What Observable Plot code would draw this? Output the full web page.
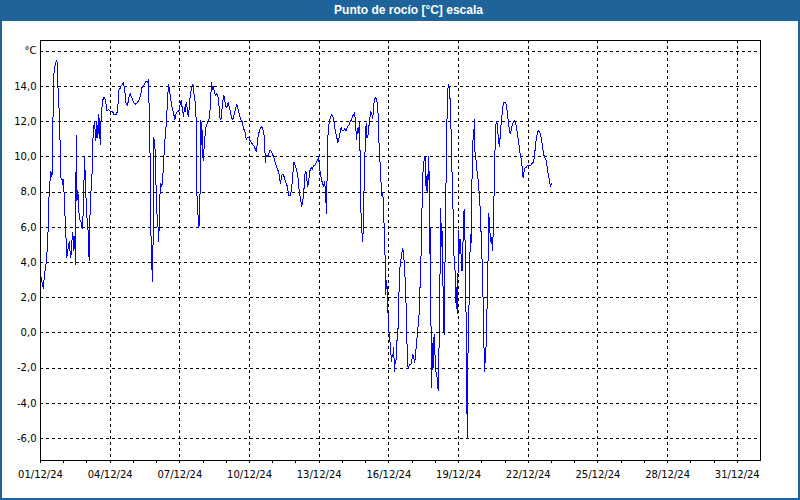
<!DOCTYPE html>
<html>
<head>
<meta charset="utf-8">
<script src="https://cdn.jsdelivr.net/npm/d3@7"></script>
<script src="https://cdn.jsdelivr.net/npm/@observablehq/plot@0.6"></script>
<style>
  html, body { margin: 0; padding: 0; background: #ffffff; }
  #wrap { width: 800px; height: 500px; box-sizing: border-box; border: 2px solid #1e6399; border-top: none; background: #ffffff; overflow: hidden; }
  #title { height: 21px; line-height: 21px; background: #1e6399; color: #ffffff; font-family: "Liberation Sans", Arial, sans-serif; font-weight: bold; font-size: 12px; text-align: center; padding-left: 17px; margin: 0 -2px; }
  #chart svg { display: block; }
</style>
</head>
<body>
<div id="wrap">
  <div id="title">Punto de rocío [°C] escala</div>
  <div id="chart"></div>
</div>
<script>
// Hours since 01/12/2024 00:00
const hours = [
  0, 3, 4, 6, 7.5, 9, 10.7, 11.7, 12.4, 12.8, 13.5, 14.5, 15.9, 17, 18, 19.3, 20.4, 21, 22.4, 23.1, 23.8,
  24.8, 26.2, 27.2, 28.3, 29.7, 30.3, 31.4, 32.4, 33.5, 34.1, 35.2, 36.2, 36.9, 37.6, 38.6, 40, 41, 42, 43,
  43.8, 44.8, 45.5, 46.5, 47.6, 49, 49.6, 50.3, 51.3, 52.4, 53.4, 54.1, 54.8, 55.8, 57.2, 58.2, 59.3, 60.3,
  61, 61.7, 62.4, 63, 64.1, 65.8, 67.2, 68.6, 70, 72, 74.1, 76.1, 78.2, 79.6, 81, 82.3, 83.7, 85.1, 85.8,
  87.2, 88.5, 89.9, 91.3, 92.7, 94.1, 96.1, 98.2, 100.3, 102.3, 103.7, 105.1, 106.5, 107.8, 109.2, 110.6,
  111.6, 112.6, 113.3, 114.4, 115.1, 115.8, 116.5, 117.1, 118.2, 118.9, 119.6, 120.3, 121.3, 122, 122.7,
  123.7, 124.4, 125.4, 126.4, 127.5, 128.5, 129.5, 130.6, 131.3, 132.3, 133.3, 134.7, 136.1, 137.5, 138.8,
  140.2, 141.6, 143, 144.4, 145.4, 146.4, 147.8, 148.8, 149.9, 150.5, 151.6, 152.6, 153.6, 154.7, 156.4,
  157.5, 158.8, 159.8, 160.9, 161.6, 162.6, 163.7, 164.3, 165, 165.8, 166.5, 167.2, 168, 169, 170.2, 171.2,
  172.3, 173.6, 174.7, 175.7, 176.7, 178.1, 178.8, 179.8, 181.2, 182.2, 183.3, 184.6, 185.7, 186.7, 187.7,
  189.1, 190.1, 191.2, 192.5, 193.9, 195.3, 196.7, 197.7, 198.8, 200.1, 201.5, 202.9, 204.3, 205.6, 207,
  208.4, 209.8, 211.1, 212.5, 213.9, 215.3, 216.7, 218, 219.4, 220.8, 222.2, 223.2, 224.2, 225.3, 227,
  228.4, 229.7, 231.1, 231.8, 232.5, 233.2, 234.6, 235.9, 237.3, 238.7, 240.1, 241.5, 242.8, 244.2, 245.6,
  247, 247.7, 248.7, 249.7, 251.1, 252.5, 253.9, 255.2, 256.3, 258, 259.4, 260.4, 261.8, 263.2, 264.5,
  265.9, 266.9, 268, 269, 270, 271.1, 272.1, 273.1, 274.2, 275.2, 276.2, 277.3, 278.3, 279.7, 280.7, 282.1,
  283.5, 284.9, 286.2, 287.3, 288.3, 289.3, 290.4, 291.4, 292.4, 293.5, 294.5, 295.5, 296.2, 296.9, 297.9,
  299.3, 300.7, 302.1, 303.5, 304.5, 305.9, 307.2, 308.3, 309.6, 310.7, 311.7, 313.1, 314.5, 315.8, 317.2,
  318.6, 320, 321.4, 322.4, 323.4, 324.5, 325.5, 326.5, 327.6, 328.6, 329.6, 330.3, 331, 331.7, 332.4,
  333.1, 333.8, 334.5, 335.1, 335.8, 336.5, 337.2, 338.2, 339.3, 340.3, 341.3, 342.4, 343.4, 344.4, 345.5,
  346.5, 347.5, 348.6, 349.5, 350.6, 351.6, 352.7, 353.7, 354.7, 355.4, 356.4, 356.8, 357.5, 358.2, 358.9,
  359.5, 360.6, 361.6, 362.6, 363.3, 364.4, 365, 365.7, 366.4, 367.5, 368.5, 369.5, 370.6, 371.6, 372.3,
  373.3, 374.4, 375, 376.1, 377.1, 378.1, 379.2, 380.2, 381.2, 382.6, 383.6, 384.7, 385.7, 386.7, 387.8,
  388.8, 389.8, 391.2, 392.3, 393.3, 394.3, 395.4, 396.4, 397.4, 398.5, 399.5, 400.2, 400.9, 401.6, 402.2,
  402.9, 403.6, 404.3, 405, 405.7, 406.7, 407.8, 408.8, 409.8, 410.9, 411.5, 412.2, 412.9, 413.6, 414.3,
  415, 415.7, 416.4, 417, 417.7, 418.4, 419.1, 419.8, 420.5, 421.2, 421.9, 422.6, 423.3, 423.9, 424.6,
  425.3, 426, 426.7, 427.4, 428.1, 428.8, 429.5, 430.1, 430.8, 431.5, 432.2, 432.9, 433.6, 434.3, 435,
  435.6, 436.3, 437, 437.7, 438.4, 439.1, 439.8, 440.5, 441.2, 441.5, 442.2, 442.9, 443.6, 444.3, 445,
  445.6, 446.3, 447, 447.7, 448.4, 449.1, 450.1, 451.1, 452.2, 453.2, 454.3, 455.3, 456.3, 457, 457.7,
  458.4, 459, 459.7, 460.4, 461.1, 461.8, 462.5, 463.2, 463.9, 464.6, 465.3, 466, 466.7, 467.3, 468,
  468.7, 469.4, 470.1, 470.8, 471.8, 472.9, 473.5, 474.2, 474.9, 475.6, 476.6, 477.7, 478.4, 479.8, 481.1,
  482.2, 483.2, 484.2, 485.3, 486.3, 487.3, 488.7, 490.1, 491.5, 492.8, 494.2, 495.6, 496.6, 497.7, 498.7,
  499.4, 500.1, 500.8, 501.8, 503.2, 504.5, 505.9, 507.6, 509.4, 510.4, 511.4, 512.5, 513.5, 514.5, 515.5,
  516.6, 517.6, 518.6, 519.7, 520.7, 521.7, 522.8, 523.8, 524.9, 525.9, 526.9, 527.9
];
// Dew point, °C
const dewPoint = [
  3.3, 2.5, 3.3, 4.0, 5.2, 8.1, 9.2, 8.9, 9.2, 11.7, 14.6, 15.0, 15.4, 15.5, 14.0, 12.6, 10.5, 8.8, 8.7, 8.4, 8.7,
  7.3, 5.6, 4.3, 4.7, 5.2, 4.7, 4.3, 5.2, 5.7, 4.7, 5.5, 3.9, 11.2, 7.5, 8.1, 6.6, 6.4, 6.3, 5.9,
  6.4, 8.3, 10.0, 8.5, 6.8, 6.0, 5.0, 4.1, 7.1, 8.3, 9.2, 10.9, 11.6, 12.0, 10.9, 12.0, 11.1, 12.4,
  11.7, 10.7, 11.8, 12.5, 13.2, 13.4, 13.2, 12.6, 12.7, 12.6, 12.6, 12.4, 12.4, 12.6, 13.8, 13.9, 14.0, 14.2, 14.2,
  13.7, 13.0, 12.9, 13.4, 13.6, 13.4, 13.1, 13.0, 13.1, 13.3, 13.6, 14.0, 14.0, 14.2, 14.3, 14.2,
  14.4, 11.9, 9.8, 4.5, 3.7, 2.9, 6.0, 11.1, 10.7, 9.4, 7.9, 6.8, 6.2, 5.2, 6.1,
  8.3, 8.5, 8.3, 8.9, 10.0, 10.9, 11.5, 12.5, 13.3, 14.1, 13.8, 13.2, 12.8, 12.5, 12.1,
  12.5, 12.6, 12.6, 13.0, 13.2, 12.8, 12.3, 12.8, 12.6, 13.1, 12.8, 12.3, 12.7, 13.5, 14.0,
  14.1, 13.5, 13.1, 12.1, 7.9, 6.8, 6.0, 6.4, 8.4, 12.1, 10.7, 11.5, 9.8, 10.5, 11.3, 11.8,
  11.9, 12.1, 12.2, 13.2, 14.2, 13.8, 14.0, 13.6, 13.5, 13.6, 13.5, 12.8, 12.1, 12.2, 12.8,
  13.5, 13.4, 12.9, 12.8, 13.1, 12.8, 12.4, 12.2, 12.1, 12.4, 12.7, 13.0, 12.7, 12.4, 12.1,
  12.0, 11.6, 11.5, 11.0, 11.1, 11.1, 10.9, 10.8, 10.7, 10.6, 10.4, 10.3, 10.9, 11.3, 11.6,
  11.7, 11.6, 11.2, 10.4, 9.7, 10.1, 10.0, 10.2, 10.4, 10.3, 10.1, 9.9, 9.6, 9.4, 9.2,
  8.9, 8.5, 8.7, 9.0, 9.0, 8.7, 8.5, 8.3, 7.8, 7.8, 8.1, 8.8, 9.7, 9.5, 9.3,
  8.9, 8.3, 7.8, 7.5, 7.2, 7.5, 8.0, 9.0, 9.2, 8.7, 8.3, 8.7, 9.2, 9.4, 9.3, 9.5,
  9.5, 9.7, 9.8, 10.0, 9.4, 9.0, 8.7, 8.5, 8.3, 8.6, 8.1, 6.8, 9.1, 11.1, 11.8,
  12.2, 12.4, 12.3, 11.9, 11.5, 11.2, 10.8, 11.0, 11.4, 11.7, 11.5, 11.5, 11.6, 11.5, 11.7,
  11.8, 12.0, 12.1, 12.3, 12.4, 12.5, 12.0, 11.0, 11.6, 11.4, 12.0, 10.0, 7.1, 6.0, 5.6,
  5.2, 7.0, 8.5, 9.8, 11.2, 11.9, 11.1, 11.1, 11.7, 12.2, 12.6, 12.4, 12.2, 13.0, 13.3,
  13.4, 13.2, 12.8, 11.1, 10.0, 8.8, 7.8, 8.0, 6.8, 5.4, 3.7, 2.2, 3.0, 2.6, 1.6,
  0.1, -0.1, -0.8, -1.6, -1.2, -1.4, -0.8, -2.2, -1.7, -1.5, -0.3, 0.3, 2.6, 3.9, 4.1,
  4.5, 4.8, 4.5, 3.9, 2.6, 1.1, -1.9, -2.0, -1.8, -1.8, -1.6, -1.2, -1.4, -1.7, -1.1,
  -0.4, 0.1, 1.1, 2.8, 4.5, 7.3, 9.4, 9.8, 10.0, 8.1, 9.0, 8.0, 10.0, 9.0, 4.5,
  6.0, -0.3, -3.1, -0.6, -2.0, -0.1, -1.4, -2.3, -2.5, -3.3, -1.8, 0.3, 3.7, 7.1, 4.9,
  5.8, 3.0, 2.0, -0.1, 2.6, 5.8, 8.8, 11.5, 13.2, 14.0, 14.1, 13.8, 13.2, 12.4, 10.5,
  9.0, 7.7, 6.0, 4.1, 3.9, 3.0, 1.4, 2.6, 1.1, 3.7, 5.8, 4.5, 5.3, 4.9, 3.7,
  3.5, 4.5, 6.0, 7.0, 6.0, 4.1, 0.7, -3.9, -6.0, -1.4, -0.8, 2.0, 4.1, 5.6, 5.1,
  8.1, 9.6, 11.1, 11.3, 12.1, 10.0, 9.8, 9.2, 8.7, 8.0, 7.1, 5.6, 4.1, 2.6, 1.1,
  -1.2, -2.2, -1.2, -0.8, 0.7, 2.2, 4.3, 6.8, 6.2, 5.6, 5.2, 5.4, 5.0, 4.7, 6.4,
  7.9, 9.8, 11.3, 12.0, 11.9, 11.2, 10.8, 10.6, 11.1, 11.7, 12.2, 12.8, 13.1, 13.1, 13.0,
  12.6, 12.1, 11.7, 11.3, 11.5, 11.8, 12.0, 12.1, 11.8, 11.3, 10.8, 10.2, 9.9, 9.4, 8.8,
  9.1, 9.3, 9.4, 9.4, 9.5, 9.5, 9.5, 9.6, 9.7, 10.0, 10.6, 11.1, 11.4, 11.5, 11.4,
  11.3, 11.0, 10.7, 10.2, 10.0, 9.9, 9.8, 9.3, 8.9, 8.7, 8.3, 8.5
];
// Axis ticks
const labelDays = [1, 4, 7, 10, 13, 16, 19, 22, 25, 28, 31];
const gridDays = [4, 7, 10, 13, 16, 19, 22, 25, 28, 31];
const minorDays = [1,2,3,4,5,6,7,8,9,10,11,12,13,14,15,16,17,18,19,20,21,22,23,24,25,26,27,28,29,30,31];
const yTicks = [-6, -4, -2, 0, 2, 4, 6, 8, 10, 12, 14];
const yGrid = [-6, -4, -2, 0, 2, 4, 6, 8, 10, 12, 14, 16];

const day = d => new Date(Date.UTC(2024, 11, d));
const start = Date.UTC(2024, 11, 1);
const data = hours.map((h, i) => ({date: new Date(start + h * 3600e3), value: dewPoint[i]}));
const fmtDate = d => String(d.getUTCDate()).padStart(2, "0") + "/" + String(d.getUTCMonth() + 1).padStart(2, "0") + "/" + String(d.getUTCFullYear() % 100).padStart(2, "0");
const fmtY = v => v.toFixed(1).replace(".", ",");

const chart = Plot.plot({
  width: 796,
  height: 477,
  marginLeft: 38,
  marginRight: 38,
  marginTop: 19,
  marginBottom: 38,
  style: {fontFamily: "DejaVu Sans", fontSize: "10px", color: "black", background: "white", overflow: "visible"},
  x: {type: "utc", domain: [day(1), new Date(Date.UTC(2025, 0, 1))], label: null},
  y: {domain: [-7.25, 16.614], label: null},
  marks: [
    Plot.ruleY(yGrid, {stroke: "black", strokeDasharray: "3,3", shapeRendering: "crispEdges"}),
    Plot.ruleX(gridDays.map(day), {stroke: "black", strokeDasharray: "3,3", shapeRendering: "crispEdges"}),
    Plot.line(data, {x: "date", y: "value", stroke: "#0000ff", strokeWidth: 1, shapeRendering: "crispEdges"}),
    Plot.frame({stroke: "black", shapeRendering: "crispEdges"}),
    Plot.axisX(minorDays.map(day), {tickSize: 3, tickFormat: () => "", shapeRendering: "crispEdges"}),
    Plot.axisX(labelDays.map(day), {tickSize: 3, tickPadding: 7, tickFormat: fmtDate, shapeRendering: "crispEdges"}),
    Plot.axisY(yTicks, {tickSize: 0, tickPadding: 4, tickFormat: fmtY}),
    Plot.text(["°C"], {frameAnchor: "top-left", dx: -4, dy: 6, textAnchor: "end"})
  ]
});
document.getElementById("chart").appendChild(chart);
</script>
</body>
</html>
